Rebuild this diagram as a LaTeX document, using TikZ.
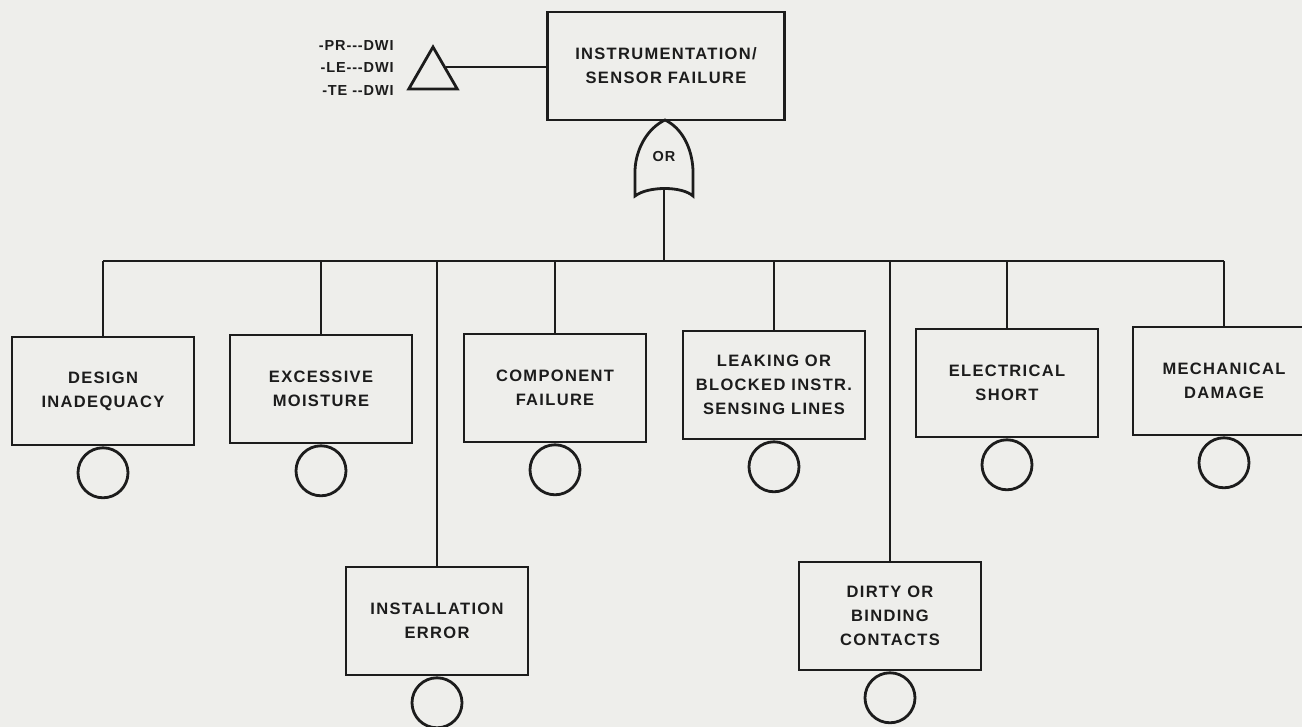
\documentclass[tikz,border=0pt]{standalone}
\usepackage{fontspec}
\setmainfont{Liberation Sans}
\usetikzlibrary{positioning,shapes.geometric}
\definecolor{paper}{RGB}{238,238,235}
\definecolor{ink}{RGB}{28,28,28}

\begin{document}
\begin{tikzpicture}[x=1pt,y=-1pt,line width=2.8pt,draw=ink,
  event/.style={draw=ink,rectangle,minimum width=182pt,minimum height=108pt,
    inner sep=0pt,align=center,text=ink,
    font=\fontsize{16.5}{24}\selectfont\bfseries\addfontfeatures{LetterSpace=8}},
  basic/.style={draw=ink,circle,minimum size=50pt,inner sep=0pt},
  label/.style={text=ink,inner sep=0pt,
    font=\fontsize{14.5}{22.5}\selectfont\bfseries\addfontfeatures{LetterSpace=6}}]
\useasboundingbox (0,0) rectangle (1302,727);
\clip (0,0) rectangle (1302,727);
\fill[paper] (0,0) rectangle (1302,727);

\node[event,minimum width=237pt] (top) at (666,66) {INSTRUMENTATION/\\SENSOR FAILURE};
\node[draw=ink,regular polygon,regular polygon sides=3,minimum size=56pt,inner sep=0pt] (xfer) at (433,75) {};
\node[label,anchor=east,align=right] (codes) at (395,68) {-PR{-}{-}{-}DWI\\-LE{-}{-}{-}DWI\\-TE {-}{-}DWI};
\draw[line width=2.2pt] (xfer.side 3) -- (xfer.side 3 -| top.west);

\draw[fill=paper] (665,120) .. controls (648,128) and (636,148) .. (635,170) -- (635,196)
  .. controls (648,186) and (682,186) .. (693,196) -- (693,170)
  .. controls (692,148) and (682,128) .. (665,120) -- cycle;
\node[label] (orlbl) at (664,157) {OR};
\coordinate (gateout) at (664,189);
\coordinate (bus) at (664,261);

\node[event] (design) at (103,391) {DESIGN\\INADEQUACY};
\node[event] (moist) at (321,389) {EXCESSIVE\\MOISTURE};
\node[event] (install) at (437,621) {INSTALLATION\\ERROR};
\node[event] (comp) at (555,388) {COMPONENT\\FAILURE};
\node[event] (leak) at (774,385) {LEAKING OR\\BLOCKED INSTR.\\SENSING LINES};
\node[event] (dirty) at (890,616) {DIRTY OR\\BINDING\\CONTACTS};
\node[event] (elec) at (1007,383) {ELECTRICAL\\SHORT};
\node[event] (mech) at (1224,381) {MECHANICAL\\DAMAGE};

\foreach \ev in {design,moist,install,comp,leak,dirty,elec,mech}{
  \node[basic,below=0pt of \ev] (\ev c) {};
  \draw (\ev.north) -- (\ev.north |- bus);
}
\draw (gateout) -- (bus);
\draw (design.north |- bus) -- (mech.north |- bus);
\end{tikzpicture}
\end{document}
